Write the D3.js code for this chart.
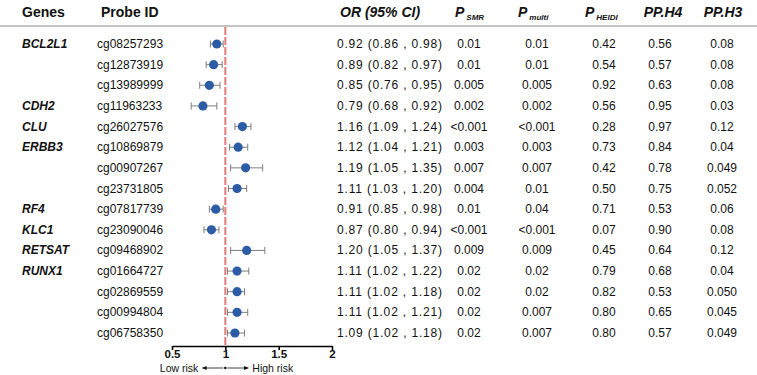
<!DOCTYPE html>
<html>
<head>
<meta charset="utf-8">
<script src="https://cdn.jsdelivr.net/npm/d3@7"></script>
<style>
  body { margin: 0; background: #fff; }
  #chart { width: 757px; height: 375px; }
  text { font-family: "Liberation Sans", Arial, Helvetica, sans-serif; fill: #111; }
</style>
</head>
<body>
<div id="chart"></div>
<script>
// data
const genes  = ["BCL2L1", "", "", "CDH2", "CLU", "ERBB3", "", "", "RF4", "KLC1", "RETSAT", "RUNX1", "", "", ""];
const probes = ["cg08257293", "cg12873919", "cg13989999", "cg11963233", "cg26027576", "cg10869879", "cg00907267",
                "cg23731805", "cg07817739", "cg23090046", "cg09468902", "cg01664727", "cg02869559", "cg00994804", "cg06758350"];
const orVal  = [0.92, 0.89, 0.85, 0.79, 1.16, 1.12, 1.19, 1.11, 0.91, 0.87, 1.20, 1.11, 1.11, 1.11, 1.09];
const ciLow  = [0.86, 0.82, 0.76, 0.68, 1.09, 1.04, 1.05, 1.03, 0.85, 0.80, 1.05, 1.02, 1.02, 1.02, 1.02];
const ciHigh = [0.98, 0.97, 0.95, 0.92, 1.24, 1.21, 1.35, 1.20, 0.98, 0.94, 1.37, 1.22, 1.18, 1.21, 1.18];
const pSMR   = ["0.01", "0.01", "0.005", "0.002", "<0.001", "0.003", "0.007", "0.004", "0.01", "<0.001", "0.009", "0.02", "0.02", "0.02", "0.02"];
const pMulti = ["0.01", "0.01", "0.005", "0.002", "<0.001", "0.003", "0.007", "0.01", "0.04", "<0.001", "0.009", "0.02", "0.02", "0.007", "0.007"];
const pHeidi = ["0.42", "0.54", "0.92", "0.56", "0.28", "0.73", "0.42", "0.50", "0.71", "0.07", "0.45", "0.79", "0.82", "0.80", "0.80"];
const ppH4   = ["0.56", "0.57", "0.63", "0.95", "0.97", "0.84", "0.78", "0.75", "0.53", "0.90", "0.64", "0.68", "0.53", "0.65", "0.57"];
const ppH3   = ["0.08", "0.08", "0.08", "0.03", "0.12", "0.04", "0.049", "0.052", "0.06", "0.08", "0.12", "0.04", "0.050", "0.045", "0.049"];
const xTicks = [0.5, 1, 1.5, 2];

const width = 757, height = 375;

const svg = d3.select("#chart")
    .append("svg")
    .attr("width", width)
    .attr("height", height);

const rows = d3.range(probes.length);

/*
SCALES
*/
const xScale = d3.scaleLinear()
    .domain([0.5, 2])
    .range([172, 332]);

const yScale = d3.scalePoint()
    .domain(rows)
    .range([44, 333]);

/*
HEADER
*/
const headY = 17;
svg.append("line")
    .attr("x1", 0).attr("x2", width)
    .attr("y1", 26).attr("y2", 26)
    .attr("stroke", "#8a8a8a")
    .attr("stroke-width", 1.2);

svg.append("text").attr("x", 22).attr("y", headY)
    .attr("font-size", 14).attr("font-weight", "bold").text("Genes");
svg.append("text").attr("x", 101).attr("y", headY)
    .attr("font-size", 14).attr("font-weight", "bold").text("Probe ID");
svg.append("text").attr("x", 340).attr("y", headY)
    .attr("font-size", 14).attr("font-weight", "bold").attr("font-style", "italic").text("OR (95% CI)");

function subHeader(x, sub) {
    const t = svg.append("text").attr("x", x).attr("y", headY)
        .attr("font-size", 14).attr("font-weight", "bold").attr("font-style", "italic");
    t.append("tspan").text("P");
    t.append("tspan").attr("font-size", 8).attr("dx", 2).attr("dy", 3).text(sub);
}
subHeader(455, "SMR");
subHeader(518, "multi");
subHeader(585, "HEIDI");

svg.append("text").attr("x", 663).attr("y", headY).attr("text-anchor", "middle")
    .attr("font-size", 14).attr("font-weight", "bold").attr("font-style", "italic").text("PP.H4");
svg.append("text").attr("x", 723).attr("y", headY).attr("text-anchor", "middle")
    .attr("font-size", 14).attr("font-weight", "bold").attr("font-style", "italic").text("PP.H3");

/*
TABLE TEXT
*/
const rowG = svg.selectAll("g.row")
    .data(rows)
    .enter()
    .append("g")
    .attr("class", "row")
    .attr("transform", function(d) { return `translate(0,${yScale(d) + 4})`; });

rowG.append("text").attr("x", 22)
    .attr("font-size", 12).attr("font-weight", "bold").attr("font-style", "italic")
    .text(function(d) { return genes[d]; });

rowG.append("text").attr("x", 97).attr("font-size", 12)
    .text(function(d) { return probes[d]; });

rowG.append("text").attr("x", 337).attr("font-size", 12)
    .attr("textLength", 105).attr("lengthAdjust", "spacing")
    .text(function(d) { return `${orVal[d].toFixed(2)} (${ciLow[d].toFixed(2)} , ${ciHigh[d].toFixed(2)})`; });

const cols = [[469, pSMR], [537, pMulti], [604, pHeidi], [660, ppH4], [722, ppH3]];
cols.forEach(function(c) {
    rowG.append("text").attr("x", c[0]).attr("text-anchor", "middle").attr("font-size", 12)
        .text(function(d) { return c[1][d]; });
});

/*
FOREST PLOT
*/
svg.append("line")
    .attr("x1", xScale(1)).attr("x2", xScale(1))
    .attr("y1", 27).attr("y2", 345)
    .attr("stroke", "#e07b7b")
    .attr("stroke-width", 2)
    .attr("stroke-dasharray", "8,2");

const ci = svg.selectAll("g.ci")
    .data(rows)
    .enter()
    .append("g")
    .attr("class", "ci")
    .attr("stroke", "#7d7d7d")
    .attr("stroke-width", 1);

ci.append("line")
    .attr("x1", function(d) { return xScale(ciLow[d]); })
    .attr("x2", function(d) { return xScale(ciHigh[d]); })
    .attr("y1", function(d) { return yScale(d); })
    .attr("y2", function(d) { return yScale(d); });
ci.append("line")
    .attr("x1", function(d) { return xScale(ciLow[d]); })
    .attr("x2", function(d) { return xScale(ciLow[d]); })
    .attr("y1", function(d) { return yScale(d) - 3.5; })
    .attr("y2", function(d) { return yScale(d) + 3.5; });
ci.append("line")
    .attr("x1", function(d) { return xScale(ciHigh[d]); })
    .attr("x2", function(d) { return xScale(ciHigh[d]); })
    .attr("y1", function(d) { return yScale(d) - 3.5; })
    .attr("y2", function(d) { return yScale(d) + 3.5; });

svg.selectAll("circle.pt")
    .data(rows)
    .enter()
    .append("circle")
    .attr("class", "pt")
    .attr("cx", function(d) { return xScale(orVal[d]); })
    .attr("cy", function(d) { return yScale(d); })
    .attr("r", 4.6)
    .attr("fill", "#2c5ca6");

/*
AXIS
*/
const xAxis = svg.append("g")
    .attr("transform", "translate(0,346)")
    .call(d3.axisBottom(xScale).tickValues(xTicks).tickSize(4).tickSizeOuter(0).tickPadding(0)
        .tickFormat(function(d) { return d; }));
xAxis.select(".domain").attr("stroke", "#000").attr("stroke-width", 1.6);
xAxis.selectAll(".tick line").attr("stroke", "#000").attr("stroke-width", 1.6);
xAxis.selectAll(".tick text")
    .attr("font-size", 11.5).attr("font-weight", "bold").attr("fill", "#111")
    .attr("font-family", "'Liberation Sans', Arial, sans-serif");

/*
RISK LABEL
*/
const riskY = 368;
const cx1 = xScale(1);
svg.append("defs").append("marker")
    .attr("id", "arr")
    .attr("viewBox", "0 0 10 10")
    .attr("refX", 9).attr("refY", 5)
    .attr("markerWidth", 6).attr("markerHeight", 6)
    .attr("orient", "auto-start-reverse")
    .append("path").attr("d", "M0,1 L10,5 L0,9 Z").attr("fill", "#111");

svg.append("text").attr("x", cx1 - 27).attr("y", riskY + 3.5).attr("text-anchor", "end")
    .attr("font-size", 10.5).text("Low risk");
svg.append("text").attr("x", cx1 + 27).attr("y", riskY + 3.5)
    .attr("font-size", 10.5).text("High risk");
svg.append("line").attr("x1", cx1 - 2).attr("x2", cx1 - 23).attr("y1", riskY).attr("y2", riskY)
    .attr("stroke", "#111").attr("stroke-width", 0.8).attr("marker-end", "url(#arr)");
svg.append("line").attr("x1", cx1 + 2).attr("x2", cx1 + 23).attr("y1", riskY).attr("y2", riskY)
    .attr("stroke", "#111").attr("stroke-width", 0.8).attr("marker-end", "url(#arr)");
svg.append("circle").attr("cx", cx1).attr("cy", riskY).attr("r", 1.3).attr("fill", "#111");
</script>
</body>
</html>
